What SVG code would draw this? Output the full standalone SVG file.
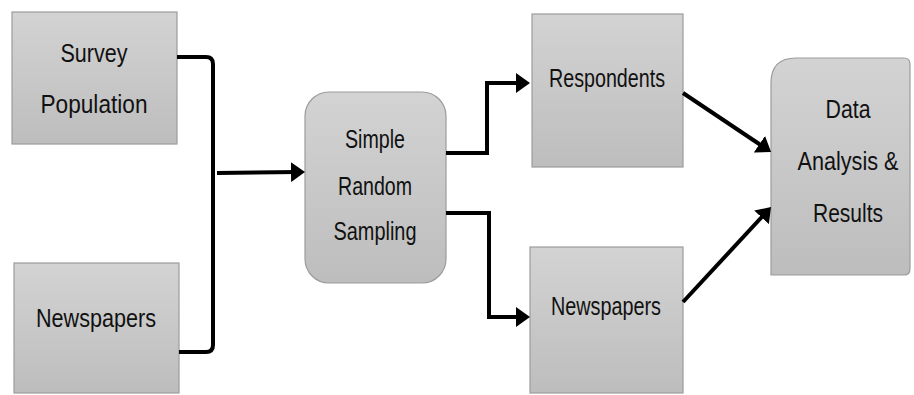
<svg xmlns="http://www.w3.org/2000/svg" width="914" height="395" viewBox="0 0 914 395">
<defs>
<linearGradient id="g" x1="0" y1="0" x2="0" y2="1">
<stop offset="0" stop-color="#d3d3d3"/>
<stop offset="1" stop-color="#bdbdbd"/>
</linearGradient>
<marker id="ah" markerUnits="userSpaceOnUse" markerWidth="14" markerHeight="20" refX="6" refY="10" orient="auto">
<path d="M0,0 L14,10 L0,20 z" fill="#000"/>
</marker>
<style>
.box{fill:url(#g);stroke:#9c9c9c;stroke-width:1.2}
.t{font-family:"Liberation Sans Narrow","Liberation Sans",sans-serif;font-size:25px;fill:#111;text-anchor:middle}
.c{fill:none;stroke:#000;stroke-width:4}
.a{marker-end:url(#ah)}
</style>
</defs>
<g id="survey">
<rect class="box" x="12" y="12" width="165" height="132"/>
<text class="t" x="94" y="62" textLength="67" lengthAdjust="spacingAndGlyphs">Survey</text>
<text class="t" x="94" y="113" textLength="107" lengthAdjust="spacingAndGlyphs">Population</text>
</g>
<g id="newspapers1">
<rect class="box" x="14" y="263" width="165" height="130"/>
<text class="t" x="96" y="327" textLength="120" lengthAdjust="spacingAndGlyphs">Newspapers</text>
</g>
<g id="srs">
<rect class="box" x="305" y="92" width="141" height="191" rx="24" ry="24"/>
<text class="t" x="375" y="148" textLength="60" lengthAdjust="spacingAndGlyphs">Simple</text>
<text class="t" x="375" y="195" textLength="74" lengthAdjust="spacingAndGlyphs">Random</text>
<text class="t" x="375" y="240" textLength="83" lengthAdjust="spacingAndGlyphs">Sampling</text>
</g>
<g id="respondents">
<rect class="box" x="532" y="14" width="151" height="153"/>
<text class="t" x="607" y="87" textLength="116" lengthAdjust="spacingAndGlyphs">Respondents</text>
</g>
<g id="newspapers2">
<rect class="box" x="530" y="247" width="153" height="146"/>
<text class="t" x="606" y="315" textLength="110" lengthAdjust="spacingAndGlyphs">Newspapers</text>
</g>
<g id="analysis">
<path class="box" d="M771,275 L771,83 Q771,58 796,58 L904,58 Q910,58 910,64 L910,269 Q910,275 904,275 Z"/>
<text class="t" x="848" y="118" textLength="45" lengthAdjust="spacingAndGlyphs">Data</text>
<text class="t" x="848" y="170" textLength="101" lengthAdjust="spacingAndGlyphs">Analysis &amp;</text>
<text class="t" x="848" y="222" textLength="70" lengthAdjust="spacingAndGlyphs">Results</text>
</g>
<g id="connectors">
<path class="c" d="M177,57 L206,57 Q213,57 213,64 L213,345 Q213,352 206,352 L179,352"/>
<path class="c a" d="M217,173 L297,172"/>
<path class="c a" d="M446,153 L487,153 L487,83 L522,83"/>
<path class="c a" d="M446,213 L489,213 L489,317 L522,317"/>
<path class="c a" d="M683,93 L764.4,147.5"/>
<path class="c a" d="M683,302 L765.6,212.9"/>
</g>
</svg>
